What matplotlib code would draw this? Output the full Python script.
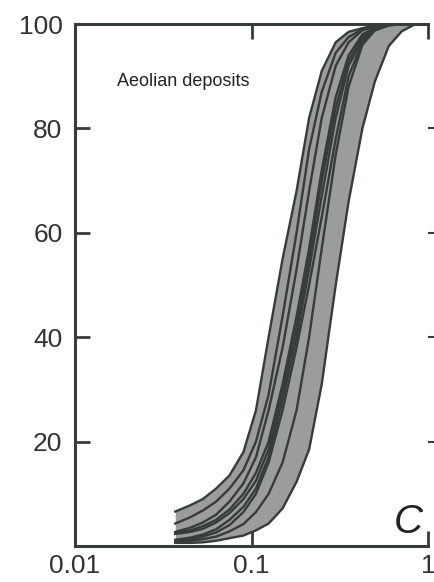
import matplotlib
matplotlib.use("Agg")
import matplotlib.pyplot as plt
import numpy as np

plt.rcParams['font.family'] = ['Liberation Sans', 'DejaVu Sans']

# grain size (mm) grid
grain_size = [0.037, 0.045, 0.053, 0.063, 0.075, 0.09, 0.106, 0.125, 0.15, 0.18,
              0.212, 0.25, 0.3, 0.355, 0.425, 0.5, 0.6, 0.71, 0.85]

# cumulative percent curves
curve_a = [6.6, 7.8, 9.0, 11.0, 13.5, 18.0, 26.0, 40.0, 55.0, 68.0, 82.0, 91.0, 96.5, 98.5, 99.2, 99.7, 100, 100, 100]
curve_b = [4.3, 5.5, 6.8, 8.5, 11.0, 14.5, 20.0, 29.0, 44.0, 60.0, 76.0, 87.0, 94.5, 97.5, 99.0, 99.6, 100, 100, 100]
curve_c = [2.7, 3.5, 4.5, 6.0, 8.5, 12.0, 17.0, 26.0, 38.0, 53.0, 68.0, 82.0, 92.0, 96.5, 98.8, 99.5, 100, 100, 100]
curve_d = [2.5, 3.0, 3.8, 5.0, 7.0, 10.0, 14.0, 20.0, 31.0, 44.0, 57.0, 72.0, 86.0, 94.0, 98.0, 99.3, 100, 100, 100]
curve_e = [2.3, 2.7, 3.3, 4.5, 6.3, 9.0, 12.5, 18.5, 29.5, 42.0, 55.0, 70.0, 84.0, 93.0, 97.5, 99.2, 100, 100, 100]
curve_f = [1.2, 1.6, 2.2, 3.2, 5.0, 7.5, 11.0, 17.0, 28.0, 40.0, 53.0, 67.0, 82.0, 92.0, 97.0, 99.0, 100, 100, 100]
curve_g = [1.0, 1.3, 1.8, 2.6, 4.0, 6.5, 10.0, 16.0, 26.0, 38.0, 50.0, 63.0, 78.0, 90.0, 96.5, 98.8, 99.7, 100, 100]
curve_h = [0.8, 1.0, 1.3, 1.8, 2.8, 4.2, 6.5, 10.0, 16.0, 26.0, 40.0, 57.0, 75.0, 88.0, 96.0, 98.8, 99.8, 100, 100]
curve_j = [0.6, 0.6, 0.7, 1.0, 1.5, 2.0, 3.0, 4.3, 7.2, 12.3, 18.5, 31.0, 50.0, 66.0, 80.0, 89.0, 95.8, 98.6, 100]

curves = [curve_a, curve_b, curve_c, curve_d, curve_e, curve_f, curve_g, curve_h, curve_j]

x_ticks = [0.01, 0.1, 1]
x_tick_labels = ["0.01", "0.1", "1"]
y_ticks = [20, 40, 60, 80, 100]
y_tick_labels = ["20", "40", "60", "80", "100"]

dark = "#363b3b"
fig = plt.figure(figsize=(4.34, 5.82), dpi=100)
ax = fig.add_axes([75/434, 1-546/582, (428-75)/434, (546-24)/582])

arr = np.array(curves)
ax.fill_between(grain_size, arr.min(axis=0), arr.max(axis=0), color="#9b9c9c", lw=0, zorder=1)
for c in curves:
    ax.plot(grain_size, c, color=dark, lw=1.7, zorder=2)

ax.set_xscale('log')
ax.set_xlim(0.01, 1)
ax.set_ylim(0, 100)
ax.minorticks_off()
ax.set_xticks(x_ticks)
ax.set_xticklabels(x_tick_labels)
ax.set_yticks(y_ticks)
ax.set_yticklabels(y_tick_labels)

for s in ['left', 'bottom', 'top']:
    ax.spines[s].set_color(dark)
    ax.spines[s].set_linewidth(2.2)
ax.spines['right'].set_visible(False)

ax.tick_params(axis='both', which='major', direction='in', length=10.5, width=2,
               color=dark, labelsize=19, labelcolor="#333333")
ax.tick_params(axis='x', top=True, pad=6)
ax.tick_params(axis='y', pad=9)
# right side short outward ticks
ax2 = ax.secondary_yaxis('right')
ax2.set_yticks([20, 40, 60, 80])
ax2.set_yticklabels([])
ax2.tick_params(direction='out', length=4, width=1.5, color=dark)
ax2.spines['right'].set_visible(False)

ax.text(117/434, 1-86/582, "Aeolian deposits", transform=fig.transFigure,
        fontsize=13, color="#222222", ha='left', va='baseline')
ax.text(423/434, 1-533/582, "C", transform=fig.transFigure, fontsize=29,
        style='italic', color="#222222", ha='right', va='baseline')

fig.savefig("out.png", dpi=100)
